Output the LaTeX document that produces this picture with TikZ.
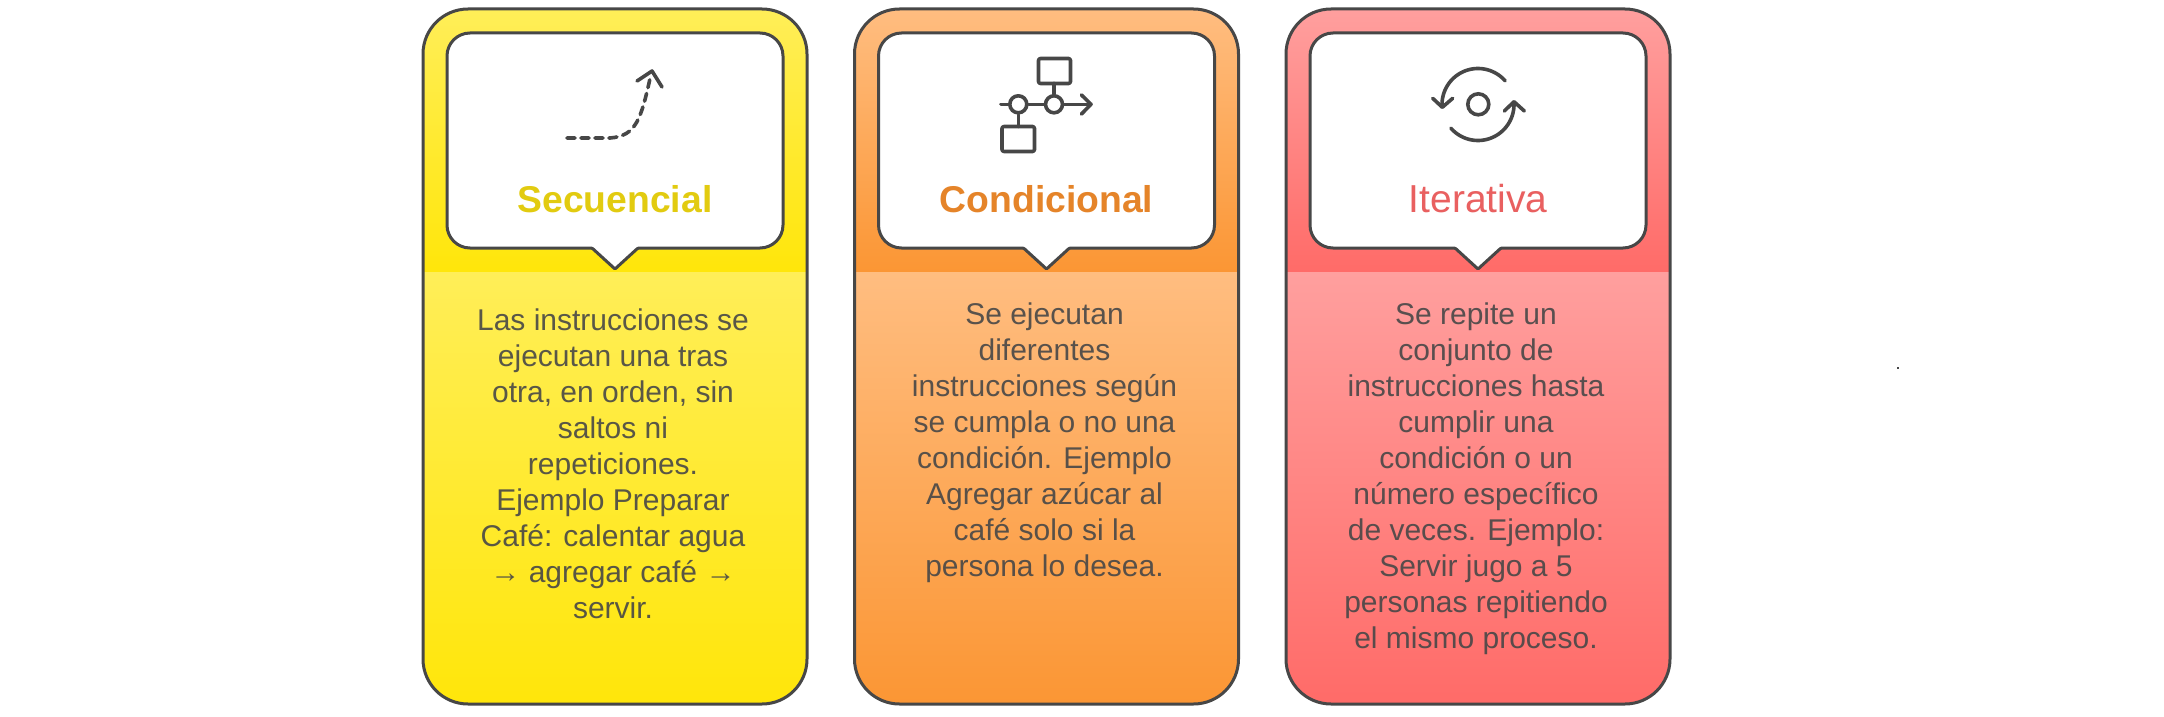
\documentclass[tikz,border=0pt]{standalone}
\usepackage{fontspec}
\setmainfont{Liberation Sans}
\definecolor{edge}{HTML}{474747}
\definecolor{ylight}{HTML}{FFEE58}\definecolor{ydark}{HTML}{FFE60A}\definecolor{ytitle}{HTML}{E2CB10}
\definecolor{olight}{HTML}{FFBD80}\definecolor{odark}{HTML}{FB9634}\definecolor{otitle}{HTML}{E58429}
\definecolor{rlight}{HTML}{FF9F9E}\definecolor{rdark}{HTML}{FF6B68}\definecolor{rtitle}{HTML}{E96060}
\tikzset{
  cardline/.style={draw=edge,line width=3pt},
  iconline/.style={draw=edge,line width=3.6pt,line cap=round,line join=round},
  titletext/.style={inner sep=0pt,anchor=base,font=\fontsize{#1}{#1}\selectfont},
  bodytext/.style={inner sep=0pt,anchor=north,align=center,text=edge,text opacity=.9,
    font=\fontsize{30}{36}\selectfont},
}
% cx, light, dark
\newcommand{\cardbody}[3]{%
  \begin{scope}
    \clip[rounded corners=45pt] (#1-192,9) rectangle (#1+192,704);
    \path[top color=#2,bottom color=#3] (#1-194,9) rectangle (#1+194,272);
    \path[top color=#2,bottom color=#3] (#1-194,272) rectangle (#1+194,704);
  \end{scope}
  \path[cardline,rounded corners=45pt] (#1-192,9) rectangle (#1+192,704);
  \path[cardline,fill=white,rounded corners=23pt]
    (#1-168,140) -- (#1-168,33) -- (#1+168,33) -- (#1+168,248)
    [rounded corners=1pt] -- (#1+23,248) -- (#1,269) -- (#1-23,248)
    [rounded corners=23pt] -- (#1-168,248) -- cycle;
}
\begin{document}
\begin{tikzpicture}[x=1pt,y=-1pt]
\useasboundingbox (0,0) rectangle (2164,717);
\fill[white] (0,0) rectangle (2164,717);
% Card 1
\cardbody{615}{ylight}{ydark}
\draw[iconline,dash pattern=on 8pt off 6pt] (567,138) -- (610,138) .. controls (636,136) and (641,120) .. (651,74);
\draw[iconline] (637,81) -- (652,71) -- (662,87);
\node[titletext=37.3,text=ytitle] (t1) at (615,212) {\bfseries Secuencial};
\node[bodytext] (b1) at (613,309) {Las instrucciones se\\ejecutan una tras\\otra, en orden, sin\\saltos ni\\repeticiones.\\Ejemplo Preparar\\Café: calentar agua\\→ agregar café →\\servir.};
% Card 2
\cardbody{1046.5}{olight}{odark}
\draw[iconline,rounded corners=2pt] (1038.5,58.5) rectangle (1070.5,83.5);
\draw[iconline,rounded corners=2pt] (1002,126.5) rectangle (1034.5,151.5);
\node[iconline,circle,minimum size=17pt,inner sep=0pt] (c1) at (1018.3,104.3) {};
\node[iconline,circle,minimum size=17pt,inner sep=0pt] (c2) at (1054,104.3) {};
\coordinate (start) at (1001,104.3);
\coordinate (end) at (1091,104.3);
\draw[iconline] (start) -- (c1) -- (c2) -- (end);
\draw[iconline] (c1) -- (1018.3,126.5);
\draw[iconline] (c2) -- (1054,83.5);
\draw[iconline] (1081.5,95) -- (end) -- (1081.5,114);
\node[titletext=37.3,text=otitle] (t2) at (1046.5,212) {\bfseries Condicional};
\node[bodytext] (b2) at (1044.5,302.5) {Se ejecutan\\diferentes\\instrucciones según\\se cumpla o no una\\condición. Ejemplo\\Agregar azúcar al\\café solo si la\\persona lo desea.};
% Card 3
\cardbody{1478}{rlight}{rdark}
\node[draw=edge,line width=3.6pt,circle,minimum size=21pt,inner sep=0pt] (c3) at (1478.3,104.3) {};
\draw[iconline] plot[domain=41:184,samples=40,smooth] ({1478+36*cos(\x)},{104.5-36*sin(\x)});
\draw[iconline] plot[domain=221:364,samples=40,smooth] ({1478+36*cos(\x)},{104.5-36*sin(\x)});
\draw[iconline] (1432.7,98.3) -- (1442.3,107.3) -- (1452.7,98.3);
\draw[iconline] (1504.3,111) -- (1514,101.7) -- (1524.3,111);
\node[titletext=39,text=rtitle] (t3) at (1478,212) {Iterativa};
\node[bodytext] (b3) at (1476,302.5) {Se repite un\\conjunto de\\instrucciones hasta\\cumplir una\\condición o un\\número específico\\de veces. Ejemplo:\\Servir jugo a 5\\personas repitiendo\\el mismo proceso.};
% stray speck
\fill[edge] (1897.2,367.2) rectangle (1898.8,368.8);
\end{tikzpicture}
\end{document}
